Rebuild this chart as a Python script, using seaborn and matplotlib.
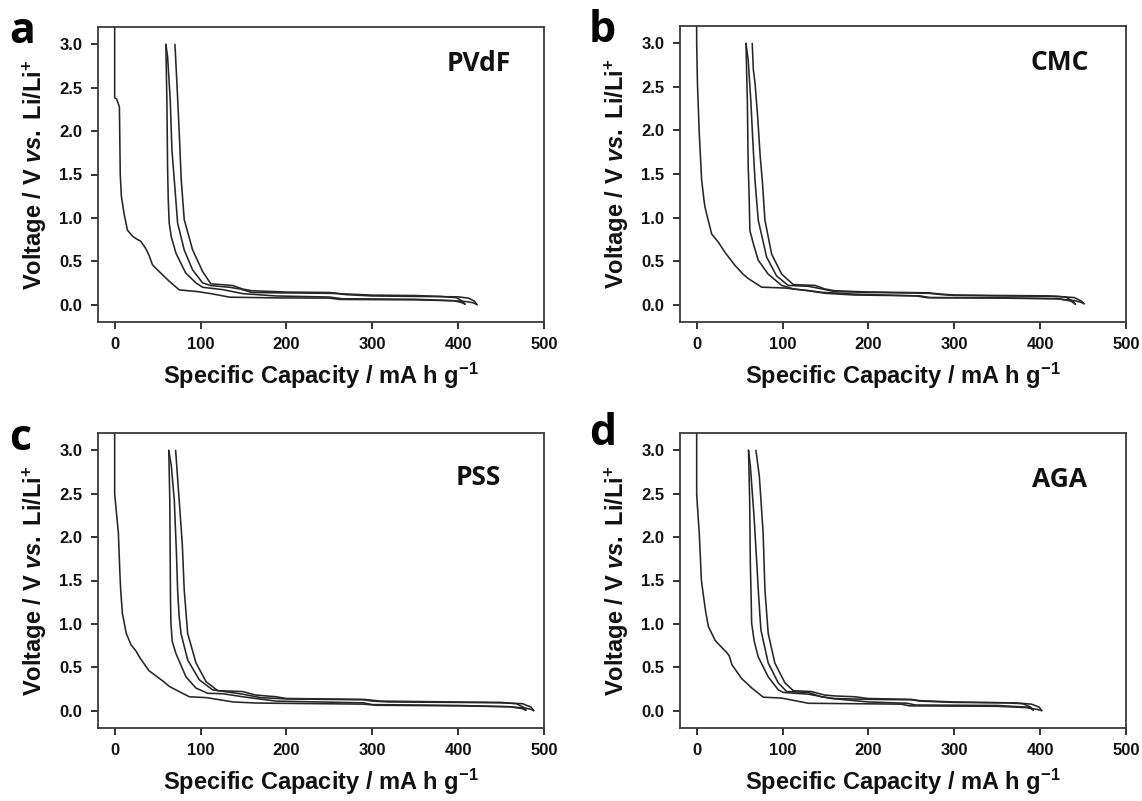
import numpy as np
import pandas as pd
import matplotlib
matplotlib.use("Agg")
import matplotlib.pyplot as plt
import seaborn as sns

# ---------------- data (capacity in mA h g-1, voltage in V) ----------------
PANELS = ["a", "b", "c", "d"]
BINDERS = ["PVdF", "CMC", "PSS", "AGA"]
X_TICKS = [0, 100, 200, 300, 400, 500]
Y_TICKS = [0.0, 0.5, 1.0, 1.5, 2.0, 2.5, 3.0]

# Panel a - PVdF
A_D1_CAP = [0, 0, 0.3, 2.3, 5.5, 6.5, 7.8, 10.9, 14.8, 20.7, 25, 30.4, 36, 40, 44, 52, 63.5, 75.2, 96.7, 112, 134, 188, 250, 262, 300, 350, 395, 410, 418, 422]
A_D1_V = [3.4, 2.40, 2.38, 2.37, 2.28, 1.5, 1.25, 1.05, 0.86, 0.79, 0.76, 0.73, 0.65, 0.57, 0.46, 0.38, 0.27, 0.17, 0.15, 0.127, 0.086, 0.078, 0.075, 0.06, 0.058, 0.055, 0.045, 0.035, 0.02, 0.0]
A_C1_CAP = [422, 419, 412, 400, 350, 300, 270, 255, 200, 160, 146, 134, 112, 102.5, 90.8, 81, 73.3, 69.4, 66.7, 64.7, 61.6, 59.6]
A_C1_V = [0.0, 0.04, 0.075, 0.09, 0.095, 0.10, 0.115, 0.13, 0.135, 0.14, 0.18, 0.20, 0.22, 0.25, 0.40, 0.63, 0.94, 1.44, 1.78, 2.36, 2.86, 3.0]
A_D2_CAP = [59.6, 60.8, 61.6, 62.4, 63.5, 66, 71.3, 82.7, 94.7, 102.5, 126, 149, 188, 250, 265, 350, 395, 404, 408]
A_D2_V = [3.0, 2.36, 1.59, 1.21, 0.94, 0.78, 0.595, 0.365, 0.25, 0.20, 0.173, 0.127, 0.10, 0.088, 0.068, 0.062, 0.045, 0.025, 0.005]
A_C2_CAP = [408, 405, 398, 380, 350, 300, 265, 250, 200, 188, 160, 149, 137.6, 126, 112, 102.5, 90.8, 81, 77.5, 75.2, 72.5, 70.2]
A_C2_V = [0.005, 0.04, 0.08, 0.095, 0.105, 0.11, 0.125, 0.14, 0.145, 0.15, 0.16, 0.18, 0.22, 0.23, 0.24, 0.38, 0.63, 0.98, 1.44, 1.98, 2.55, 3.0]

# Panel b - CMC
B_D1_CAP = [0, 0, 0.9, 3, 5.8, 8.5, 9.7, 11.5, 17.5, 25, 33, 44.6, 54, 60, 75.6, 103, 130, 149, 184, 260, 272, 350, 420, 440, 448, 451]
B_D1_V = [3.4, 3.0, 2.54, 1.97, 1.43, 1.2, 1.12, 1.045, 0.81, 0.72, 0.60, 0.45, 0.35, 0.30, 0.20, 0.19, 0.16, 0.13, 0.11, 0.10, 0.08, 0.075, 0.065, 0.045, 0.025, 0.01]
B_C1_CAP = [451, 448, 440, 420, 350, 300, 285, 270, 200, 160, 146, 130, 106.6, 93, 81.5, 71.7, 67.9, 66, 63, 60, 57.4]
B_C1_V = [0.01, 0.04, 0.08, 0.095, 0.10, 0.105, 0.115, 0.13, 0.14, 0.15, 0.18, 0.21, 0.22, 0.33, 0.545, 0.97, 1.43, 1.77, 2.35, 2.81, 3.0]
B_D2_CAP = [57.4, 59, 60, 61, 62, 66, 71.7, 83.3, 99, 112.5, 147, 184, 255, 268, 350, 420, 436, 441]
B_D2_V = [3.0, 2.35, 1.6, 1.28, 0.85, 0.7, 0.51, 0.35, 0.22, 0.18, 0.14, 0.12, 0.10, 0.08, 0.078, 0.07, 0.04, 0.005]
B_C2_CAP = [441, 438, 430, 410, 350, 300, 285, 270, 200, 184, 160, 149, 138, 112.5, 99, 87.3, 79.5, 76.4, 74, 71, 68, 66, 64.7]
B_C2_V = [0.005, 0.04, 0.085, 0.10, 0.105, 0.11, 0.12, 0.135, 0.145, 0.15, 0.16, 0.18, 0.22, 0.23, 0.35, 0.58, 0.97, 1.43, 1.7, 2.16, 2.54, 2.7, 3.0]

# Panel c - PSS
C_D1_CAP = [0, 0, 1.3, 4.3, 6.0, 7, 9, 13.5, 19, 24.6, 30, 40, 57, 63.5, 75, 87, 107, 138, 164, 188, 290, 305, 400, 460, 478, 485, 488]
C_D1_V = [3.4, 2.5, 2.36, 2.05, 1.6, 1.39, 1.12, 0.89, 0.76, 0.69, 0.6, 0.46, 0.335, 0.28, 0.22, 0.16, 0.15, 0.10, 0.088, 0.085, 0.075, 0.062, 0.055, 0.045, 0.03, 0.015, 0.0]
C_C1_CAP = [488, 485, 475, 450, 400, 320, 300, 290, 200, 170, 149, 114, 98.6, 85, 77.2, 75, 73.3, 72, 69.4, 66, 63]
C_C1_V = [0.0, 0.04, 0.08, 0.09, 0.095, 0.10, 0.11, 0.125, 0.135, 0.15, 0.19, 0.24, 0.355, 0.585, 0.89, 1.1, 1.39, 1.8, 2.43, 2.82, 3.0]
C_D2_CAP = [63, 64.2, 65, 65.5, 67, 71.3, 83, 94.7, 108.3, 126, 149, 188, 290, 300, 400, 460, 474, 479]
C_D2_V = [3.0, 2.43, 1.3, 1.01, 0.8, 0.66, 0.39, 0.26, 0.20, 0.195, 0.16, 0.11, 0.09, 0.07, 0.06, 0.045, 0.025, 0.005]
C_C2_CAP = [479, 476, 468, 450, 400, 310, 300, 290, 200, 188, 164, 149, 120, 106.4, 94.7, 85, 81, 78.7, 74.5, 71]
C_C2_V = [0.005, 0.04, 0.08, 0.095, 0.10, 0.11, 0.12, 0.13, 0.14, 0.16, 0.18, 0.22, 0.23, 0.335, 0.55, 0.89, 1.39, 1.93, 2.51, 3.0]

# Panel d - AGA
D_D1_CAP = [0, 0, 0.85, 3, 5.5, 7.5, 10.5, 13.6, 21.5, 30, 35, 38, 41, 52.4, 64.3, 77.5, 99, 130, 184, 238, 248, 350, 385, 396, 402]
D_D1_V = [3.4, 2.5, 2.36, 2.05, 1.5, 1.35, 1.14, 0.97, 0.81, 0.72, 0.67, 0.63, 0.53, 0.37, 0.26, 0.155, 0.145, 0.085, 0.08, 0.075, 0.055, 0.05, 0.035, 0.015, 0.0]
D_C1_CAP = [402, 399, 390, 370, 300, 260, 250, 200, 160, 145, 130, 104.8, 95, 83.3, 74.8, 72, 70, 66.8, 62.5, 60.4]
D_C1_V = [0.0, 0.04, 0.075, 0.09, 0.095, 0.11, 0.125, 0.13, 0.14, 0.16, 0.21, 0.22, 0.32, 0.55, 0.93, 1.35, 1.7, 2.24, 2.82, 3.0]
D_D2_CAP = [60.4, 61.7, 62.5, 63.5, 64, 67, 71.7, 83.3, 95, 100.8, 130, 157, 200, 245, 255, 350, 385, 390, 392]
D_D2_V = [3.0, 2.43, 1.7, 1.28, 1.01, 0.8, 0.62, 0.39, 0.24, 0.21, 0.19, 0.14, 0.10, 0.085, 0.065, 0.06, 0.04, 0.02, 0.005]
D_C2_CAP = [392, 389, 380, 360, 300, 260, 250, 200, 184, 160, 149, 133.6, 112.5, 102.8, 91, 83.3, 79.5, 77.4, 73, 69]
D_C2_V = [0.005, 0.04, 0.08, 0.09, 0.10, 0.115, 0.13, 0.14, 0.16, 0.17, 0.18, 0.22, 0.23, 0.32, 0.55, 0.89, 1.39, 2.05, 2.7, 3.0]

SEGMENTS = {
    "a": [(A_D1_CAP, A_D1_V), (A_C1_CAP, A_C1_V), (A_D2_CAP, A_D2_V), (A_C2_CAP, A_C2_V)],
    "b": [(B_D1_CAP, B_D1_V), (B_C1_CAP, B_C1_V), (B_D2_CAP, B_D2_V), (B_C2_CAP, B_C2_V)],
    "c": [(C_D1_CAP, C_D1_V), (C_C1_CAP, C_C1_V), (C_D2_CAP, C_D2_V), (C_C2_CAP, C_C2_V)],
    "d": [(D_D1_CAP, D_D1_V), (D_C1_CAP, D_C1_V), (D_D2_CAP, D_D2_V), (D_C2_CAP, D_C2_V)],
}
SEG_NAMES = ["discharge 1", "charge 1", "discharge 2", "charge 2"]

# ---------------- style ----------------
sns.set_theme(style="ticks")
plt.rcParams["font.family"] = ["Liberation Sans", "DejaVu Sans"]
plt.rcParams["font.weight"] = "bold"
plt.rcParams["mathtext.fontset"] = "custom"
plt.rcParams["mathtext.rm"] = "Liberation Sans:bold"
plt.rcParams["mathtext.it"] = "Liberation Sans:italic:bold"
plt.rcParams["mathtext.bf"] = "Liberation Sans:bold"

LINE_COLOR = "#262626"
SPINE_COLOR = "#3a3a3a"

fig = plt.figure(figsize=(11.42, 8.01), dpi=100)
W, H = 1142, 801
boxes = {
    "a": (97.5, 27, 544, 322),
    "b": (679.5, 26, 1126, 322),
    "c": (97.5, 433, 544, 728),
    "d": (679.5, 433, 1126, 728),
}
letter_pos = {"a": (9, 43), "b": (589, 42), "c": (9, 450), "d": (589, 445)}
label_pos = {"a": (424, 2.78), "b": (423, 2.78), "c": (424, 2.69), "d": (423, 2.66)}

for p, binder in zip(PANELS, BINDERS):
    x0, y0, x1, y1 = boxes[p]
    ax = fig.add_axes([x0 / W, 1 - y1 / H, (x1 - x0) / W, (y1 - y0) / H])
    rows = []
    for name, (cap, v) in zip(SEG_NAMES, SEGMENTS[p]):
        rows.append(pd.DataFrame({"cap": cap, "volt": v, "seg": name}))
    df = pd.concat(rows, ignore_index=True)
    sns.lineplot(data=df, x="cap", y="volt", units="seg", estimator=None,
                 sort=False, color=LINE_COLOR, linewidth=1.15, ax=ax, legend=False)
    ax.set_xlim(-20, 500)
    ax.set_ylim(-0.2, 3.2)
    ax.set_xticks(X_TICKS)
    ax.set_yticks(Y_TICKS)
    ax.set_xticklabels([f"{t}" for t in X_TICKS])
    ax.set_yticklabels([f"{t:.1f}" for t in Y_TICKS])
    for s in ax.spines.values():
        s.set_visible(True)
        s.set_color(SPINE_COLOR)
        s.set_linewidth(1.3)
    ax.tick_params(axis="both", direction="out", length=5, width=1.2,
                   colors="#111111", labelsize=12, pad=6)
    for lab in ax.get_xticklabels() + ax.get_yticklabels():
        lab.set_fontweight("bold")
    ax.set_xlabel(r"Specific Capacity / mA h g$^{-1}$", fontsize=17,
                  fontweight="bold", labelpad=6, color="#111111")
    ax.set_ylabel(r"Voltage / V $vs.$ Li/Li$^{+}$", fontsize=17,
                  fontweight="bold", labelpad=7, color="#111111")
    lx, ly = label_pos[p]
    ax.text(lx, ly, binder, ha="center", va="center", fontsize=19,
            fontweight="bold", family=["Open Sans", "DejaVu Sans"], color="#111111")
    px, py = letter_pos[p]
    fig.text(px / W, 1 - py / H, p, ha="left", va="baseline", fontsize=31,
             fontweight="bold", family=["Open Sans", "DejaVu Sans"], color="#000000")

fig.savefig("out.png", dpi=100)
